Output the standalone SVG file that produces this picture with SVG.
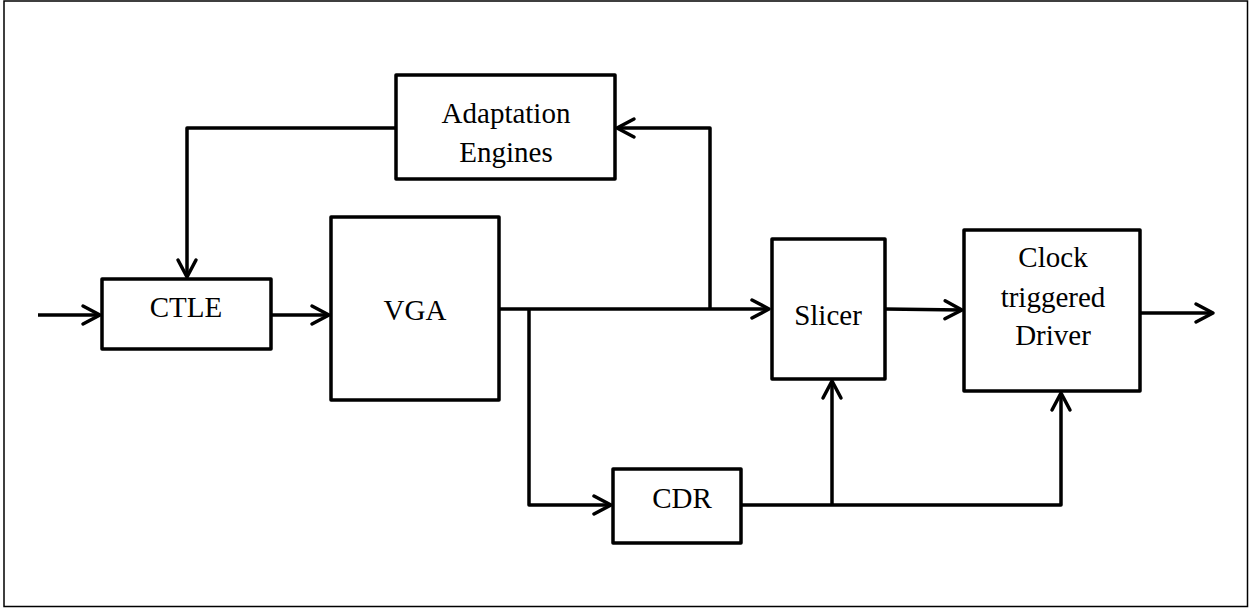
<svg xmlns="http://www.w3.org/2000/svg" width="1250" height="609" viewBox="0 0 1250 609">
<style>
.box{fill:#fff;stroke:#000;stroke-width:3.5;stroke-linejoin:round}
.lbl{font-family:"Liberation Serif","Times New Roman",serif;font-size:29px;fill:#000;text-anchor:middle}
.wire{fill:none;stroke:#000;stroke-width:3.5;stroke-linejoin:round}
</style>
<defs>
<marker id="arr" viewBox="-20 -12 24 24" refX="0" refY="0" markerWidth="24" markerHeight="24" markerUnits="userSpaceOnUse" orient="auto">
<path d="M-17,-9 L0,0 L-17,9" fill="none" stroke="#000" stroke-width="3.5" stroke-linecap="round" stroke-linejoin="round"/>
</marker>
</defs>
<rect x="0" y="0" width="1250" height="609" fill="#fff"/>
<rect x="4" y="1" width="1243.5" height="605.5" fill="none" stroke="#000" stroke-width="1.5"/>
<g id="connectors">
<path class="wire" d="M38,315 L100,315" marker-end="url(#arr)"/>
<path class="wire" d="M271,315 L329,315" marker-end="url(#arr)"/>
<path class="wire" d="M396,128 L187,128 L187,277" marker-end="url(#arr)"/>
<path class="wire" d="M499,309 L769,309" marker-end="url(#arr)"/>
<path class="wire" d="M710,309 L710,128 L617,128" marker-end="url(#arr)"/>
<path class="wire" d="M529,309 L529,505 L611,505" marker-end="url(#arr)"/>
<path class="wire" d="M741,505 L1061,505 L1061,393" marker-end="url(#arr)"/>
<path class="wire" d="M832,505 L832,381" marker-end="url(#arr)"/>
<path class="wire" d="M885,309 L962,310" marker-end="url(#arr)"/>
<path class="wire" d="M1140,313 L1213,313" marker-end="url(#arr)"/>
</g>
<g id="adaptation">
<rect class="box" x="396" y="75" width="219" height="104"/>
<text class="lbl" x="506" y="123">Adaptation</text>
<text class="lbl" x="506" y="162">Engines</text>
</g>
<g id="ctle">
<rect class="box" x="102" y="279" width="169" height="70"/>
<text class="lbl" x="186" y="317">CTLE</text>
</g>
<g id="vga">
<rect class="box" x="331" y="217" width="168" height="183"/>
<text class="lbl" x="415" y="320">VGA</text>
</g>
<g id="slicer">
<rect class="box" x="772" y="239" width="113" height="140"/>
<text class="lbl" x="828" y="325">Slicer</text>
</g>
<g id="driver">
<rect class="box" x="964" y="230" width="176" height="161"/>
<text class="lbl" x="1053" y="267">Clock</text>
<text class="lbl" x="1053" y="307">triggered</text>
<text class="lbl" x="1053" y="345">Driver</text>
</g>
<g id="cdr">
<rect class="box" x="613" y="469" width="128" height="74"/>
<text class="lbl" x="682" y="508">CDR</text>
</g>
</svg>
